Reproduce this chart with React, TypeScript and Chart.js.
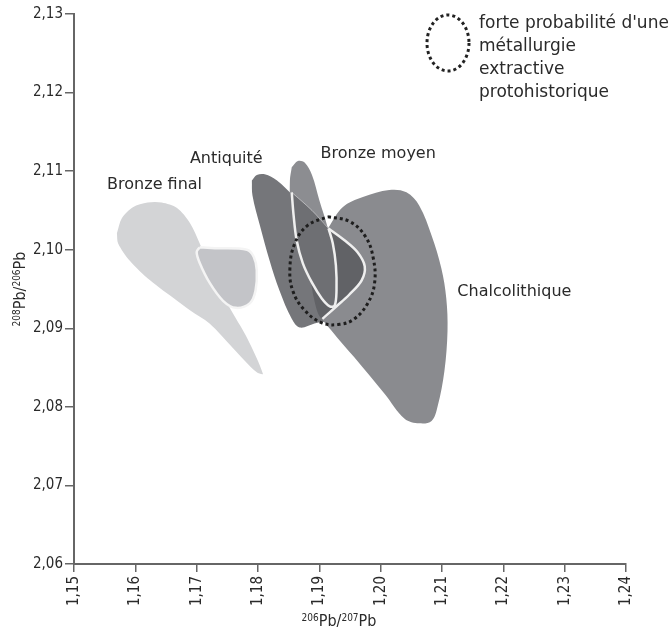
import { useEffect, useRef } from "react";
import { Chart, registerables } from "chart.js";

Chart.register(...registerables);

// ---- axis ticks ----
const xTicks = [1.15, 1.16, 1.17, 1.18, 1.19, 1.2, 1.21, 1.22, 1.23, 1.24];
const yTicks = [2.06, 2.07, 2.08, 2.09, 2.1, 2.11, 2.12, 2.13];

// ---- field outlines ( [206Pb/207Pb, 208Pb/206Pb] ) ----
const bronzeFinalLarge: [number, number][] = [
  [1.157, 2.1021], [1.1578, 2.104], [1.1596, 2.1054], [1.162, 2.106], [1.1643, 2.106],
  [1.1668, 2.1053], [1.1689, 2.1034], [1.1705, 2.1008], [1.1721, 2.0977], [1.1741, 2.0946],
  [1.1759, 2.0919], [1.1782, 2.0888], [1.1808, 2.0842], [1.1798, 2.0844], [1.1778, 2.0859],
  [1.1759, 2.0875], [1.1721, 2.0906], [1.1689, 2.0923], [1.1668, 2.0935], [1.1624, 2.0961],
  [1.1591, 2.0986], [1.1572, 2.1008],
];
const bronzeFinalSmall: [number, number][] = [
  [1.1705, 2.1003], [1.173, 2.1002], [1.1782, 2.1], [1.1793, 2.0991], [1.1798, 2.0974],
  [1.1796, 2.0948], [1.1787, 2.0932], [1.1764, 2.0926], [1.1743, 2.0935], [1.1721, 2.0958],
  [1.1705, 2.0983], [1.17, 2.0997],
];
const antiquite: [number, number][] = [
  [1.179, 2.1088], [1.1798, 2.1095], [1.1811, 2.1096], [1.1831, 2.1088], [1.1857, 2.1069],
  [1.1884, 2.1048], [1.1917, 2.1025], [1.1941, 2.0999], [1.1941, 2.0948], [1.1917, 2.0912],
  [1.1892, 2.0906], [1.1868, 2.0901], [1.1855, 2.0912], [1.1835, 2.0948], [1.1819, 2.0986],
  [1.1803, 2.1031], [1.1791, 2.1069],
];
const bronzeMoyen: [number, number][] = [
  [1.1855, 2.1105], [1.1865, 2.1113], [1.1876, 2.1111], [1.1888, 2.1095], [1.19, 2.1063],
  [1.1914, 2.1027], [1.1923, 2.0993], [1.1928, 2.0954], [1.1927, 2.0929], [1.1918, 2.0925],
  [1.1897, 2.0944], [1.1876, 2.0974], [1.1861, 2.1012], [1.1853, 2.1056], [1.1852, 2.1088],
];
const chalcolithique: [number, number][] = [
  [1.1914, 2.1027], [1.1938, 2.1054], [1.1971, 2.1067], [1.2014, 2.1076], [1.2042, 2.1073],
  [1.2063, 2.1056], [1.2083, 2.1018], [1.2099, 2.0976], [1.2107, 2.0938], [1.2109, 2.0897],
  [1.2104, 2.0846], [1.2093, 2.0801], [1.2083, 2.0782], [1.2063, 2.0779], [1.2039, 2.0785],
  [1.2006, 2.0817], [1.1957, 2.0863], [1.192, 2.0897], [1.19, 2.0918], [1.1892, 2.0948],
  [1.1897, 2.0993],
];
const bronzeMoyenCore: [number, number][] = [
  [1.1915, 2.1027], [1.1941, 2.1012], [1.1962, 2.0997], [1.1974, 2.0979], [1.1969, 2.0961],
  [1.1949, 2.0943], [1.1928, 2.0928], [1.1905, 2.0912], [1.1892, 2.0935], [1.1886, 2.0974],
  [1.1892, 2.1002],
];
const bronzeMoyenCoreEdge: [number, number][] = [
  [1.1915, 2.1027], [1.1941, 2.1012], [1.1962, 2.0997], [1.1974, 2.0979], [1.1969, 2.0961],
  [1.1949, 2.0943], [1.1928, 2.0928], [1.1905, 2.0912],
];
const bronzeMoyenLoop: [number, number][] = [
  [1.1855, 2.1073], [1.1858, 2.1044], [1.1863, 2.1012], [1.1873, 2.0983], [1.1888, 2.0958],
  [1.1904, 2.0938], [1.1917, 2.0928], [1.1925, 2.0929], [1.1928, 2.0948], [1.1927, 2.098],
  [1.1922, 2.1008], [1.1915, 2.1027], [1.1888, 2.105],
];
const bronzeMoyenLoopEdge: [number, number][] = [
  [1.1855, 2.1073], [1.1858, 2.1044], [1.1863, 2.1012], [1.1873, 2.0983], [1.1888, 2.0958],
  [1.1904, 2.0938], [1.1917, 2.0928], [1.1925, 2.0929], [1.1928, 2.0948], [1.1927, 2.098],
  [1.1922, 2.1008], [1.1915, 2.1027],
];
const bronzeMoyenLoopTop: [number, number][] = [
  [1.1855, 2.1073], [1.1888, 2.105], [1.1915, 2.1027],
];
const probableZone: [number, number][] = [
  [1.1914, 2.1042], [1.1949, 2.1036], [1.1975, 2.1017], [1.1988, 2.0989], [1.199, 2.0957],
  [1.1979, 2.0932], [1.1957, 2.0912], [1.1933, 2.0905], [1.1904, 2.0907], [1.1876, 2.0923],
  [1.1857, 2.0947], [1.1852, 2.0976], [1.186, 2.1008], [1.1881, 2.1031],
];

// ---- field labels ----
const labelNames = ["Bronze final", "Antiquité", "Bronze moyen", "Chalcolithique"];
const labelX = [1.1554, 1.1689, 1.1902, 1.2125];
const labelY = [2.1083, 2.1116, 2.1122, 2.0947];
const legendLines = ["forte probabilité d'une", "métallurgie", "extractive", "protohistorique"];

const FONT = '"DejaVu Sans", sans-serif';
const TICK_FONT = '"DejaVu Sans Condensed", "DejaVu Sans", sans-serif';
const TEXT = "#2a2a2a";
const AXIS = "#666666";

const closed = (pts: [number, number][]) =>
  [...pts, pts[0]].map(([x, y]) => ({ x, y }));
const open = (pts: [number, number][]) => pts.map(([x, y]) => ({ x, y }));

type Part = { t: string; sup?: boolean };
function drawParts(ctx: CanvasRenderingContext2D, parts: Part[], cx: number, cy: number) {
  const big = `16px ${TICK_FONT}`;
  const small = `10px ${TICK_FONT}`;
  let total = 0;
  const widths = parts.map((p) => {
    ctx.font = p.sup ? small : big;
    const w = ctx.measureText(p.t).width;
    total += w;
    return w;
  });
  let x = cx - total / 2;
  ctx.textAlign = "left";
  ctx.textBaseline = "alphabetic";
  parts.forEach((p, i) => {
    ctx.font = p.sup ? small : big;
    ctx.fillText(p.t, x, p.sup ? cy - 5 : cy);
    x += widths[i];
  });
}

const textPlugin = {
  id: "texts",
  afterDatasetsDraw(chart: any) {
    const { ctx, scales } = chart;
    const xs = scales.x;
    const ys = scales.y;
    ctx.save();
    ctx.fillStyle = TEXT;
    ctx.font = `16px ${FONT}`;
    ctx.textAlign = "left";
    ctx.textBaseline = "middle";
    labelNames.forEach((n, i) => {
      ctx.fillText(n, xs.getPixelForValue(labelX[i]), ys.getPixelForValue(labelY[i]));
    });
    // legend
    ctx.font = `17px ${FONT}`;
    legendLines.forEach((l, i) => ctx.fillText(l, 479, 24 + i * 23));
    ctx.strokeStyle = "#222";
    ctx.lineWidth = 3;
    ctx.setLineDash([3, 3]);
    ctx.beginPath();
    ctx.ellipse(448, 43, 21, 28, 0, 0, Math.PI * 2);
    ctx.stroke();
    ctx.setLineDash([]);
    // axis titles
    ctx.fillStyle = TEXT;
    drawParts(ctx, [{ t: "206", sup: true }, { t: "Pb" }, { t: "/" }, { t: "207", sup: true }, { t: "Pb" }], 339, 626);
    ctx.save();
    ctx.translate(25, 289);
    ctx.rotate(-Math.PI / 2);
    drawParts(ctx, [{ t: "208", sup: true }, { t: "Pb" }, { t: "/" }, { t: "206", sup: true }, { t: "Pb" }], 0, 0);
    ctx.restore();
    ctx.restore();
  },
};

export default function App() {
  const ref = useRef<HTMLCanvasElement>(null);
  useEffect(() => {
    const shape = (pts: [number, number][], fill: string, border = "rgba(0,0,0,0)", bw = 0, tension = 0.35) => ({
      data: closed(pts),
      showLine: true,
      fill: "shape",
      backgroundColor: fill,
      borderColor: border,
      borderWidth: bw,
      pointRadius: 0,
      pointHoverRadius: 0,
      tension,
    });
    const line = (pts: [number, number][], color: string, width: number) => ({
      data: open(pts),
      showLine: true,
      fill: false,
      borderColor: color,
      borderWidth: width,
      pointRadius: 0,
      tension: 0.35,
    });
    const bottomToTop: any[] = [
      shape(bronzeFinalLarge, "#d3d4d6", "rgba(0,0,0,0)", 0, 0.3),
      shape(bronzeFinalSmall, "#c3c4c8", "#f4f4f4", 2.5, 0.35),
      shape(bronzeMoyen, "#8c8d91", "rgba(0,0,0,0)", 0, 0.35),
      shape(antiquite, "#75767a", "rgba(0,0,0,0)", 0, 0.35),
      shape(chalcolithique, "#8a8b8f", "rgba(0,0,0,0)", 0, 0.35),
      shape(bronzeMoyenCore, "#616266", "rgba(0,0,0,0)", 0, 0.35),
      shape(bronzeMoyenLoop, "#6e6f73", "rgba(0,0,0,0)", 0, 0.35),
      line(bronzeMoyenLoopTop, "rgba(200,200,202,0.8)", 1),
      line(bronzeMoyenLoopEdge, "#efefef", 2.5),
      line(bronzeMoyenCoreEdge, "#efefef", 2.5),
      {
        data: closed(probableZone),
        showLine: true,
        fill: false,
        borderColor: "#1e1e1e",
        borderWidth: 3,
        borderDash: [3, 3],
        pointRadius: 0,
        tension: 0.4,
      },
    ];
    const datasets = bottomToTop.slice().reverse();
    const fmt = (v: any) => Number(v).toFixed(2).replace(".", ",");
    const chart = new Chart(ref.current!, {
      type: "scatter",
      data: { datasets },
      options: {
        animation: false,
        responsive: false,
        events: [],
        layout: { padding: { top: 14, right: 44, left: 0, bottom: 0 } },
        plugins: { legend: { display: false }, tooltip: { enabled: false } },
        scales: {
          x: {
            type: "linear",
            min: 1.15,
            max: 1.24,
            afterBuildTicks: (s: any) => {
              s.ticks = xTicks.map((v) => ({ value: v }));
            },
            afterFit: (s: any) => {
              s.height = 66;
            },
            ticks: {
              callback: fmt,
              minRotation: 90,
              maxRotation: 90,
              autoSkip: false,
              padding: 4,
              color: TEXT,
              font: { family: TICK_FONT, size: 15 },
            },
            grid: { drawOnChartArea: false, drawTicks: true, tickLength: 8, color: AXIS, lineWidth: 1.5 },
            border: { display: true, color: AXIS, width: 2 },
          },
          y: {
            type: "linear",
            min: 2.06,
            max: 2.13,
            afterBuildTicks: (s: any) => {
              s.ticks = yTicks.map((v) => ({ value: v }));
            },
            afterFit: (s: any) => {
              s.width = 74;
            },
            ticks: {
              callback: fmt,
              autoSkip: false,
              padding: 2,
              color: TEXT,
              font: { family: TICK_FONT, size: 15 },
            },
            grid: { drawOnChartArea: false, drawTicks: true, tickLength: 9, color: AXIS, lineWidth: 1.5 },
            border: { display: true, color: AXIS, width: 2 },
          },
        },
      } as any,
      plugins: [textPlugin],
    });
    return () => chart.destroy();
  }, []);
  return (
    <div style={{ position: "absolute", left: 0, top: 0, width: 670, height: 630, background: "#fff" }}>
      <canvas ref={ref} width={670} height={630} style={{ display: "block" }} />
    </div>
  );
}
